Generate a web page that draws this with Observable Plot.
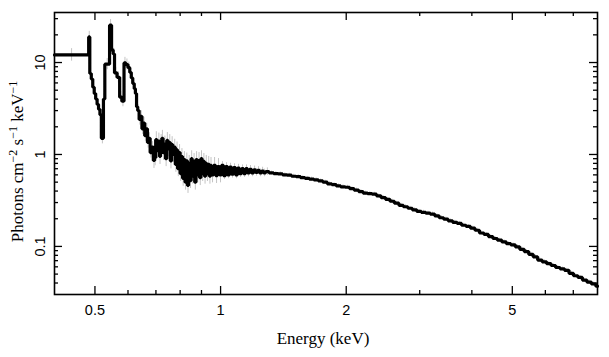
<!DOCTYPE html>
<html>
<head>
<meta charset="utf-8">
<script src="https://cdn.jsdelivr.net/npm/d3@7"></script>
<script src="https://cdn.jsdelivr.net/npm/@observablehq/plot@0.6"></script>
<style>
  html, body { margin: 0; padding: 0; background: #fff; }
</style>
</head>
<body>
<div id="chart"></div>
<script>
// Bin left edges (keV) and flux (photons cm^-2 s^-1 keV^-1)
const binStart = [
  0.400, 0.483, 0.486, 0.490, 0.494, 0.498, 0.502, 0.506, 0.510, 0.514,
  0.518, 0.524, 0.528, 0.542, 0.548, 0.553, 0.557, 0.565, 0.573, 0.580,
  0.587, 0.593, 0.600, 0.606, 0.611, 0.616, 0.621, 0.625, 0.629, 0.633,
  0.638, 0.643, 0.648, 0.653, 0.658, 0.663, 0.668, 0.673, 0.678, 0.684,
  0.690, 0.695, 0.699, 0.704, 0.709, 0.714, 0.718, 0.723, 0.728, 0.733,
  0.738, 0.743, 0.748, 0.753, 0.758, 0.763, 0.768, 0.774, 0.779, 0.784,
  0.789, 0.795, 0.800, 0.805, 0.811, 0.816, 0.822, 0.827, 0.833, 0.838,
  0.844, 0.850, 0.855, 0.861, 0.867, 0.873, 0.879, 0.885, 0.891, 0.897,
  0.903, 0.909, 0.915, 0.921, 0.927, 0.933, 0.940, 0.946,
  0.951, 0.962, 0.973, 0.983, 0.994, 1.005, 1.016, 1.028, 1.039, 1.051,
  1.062, 1.074, 1.086, 1.098, 1.110, 1.123, 1.135, 1.148, 1.160, 1.173,
  1.186, 1.200, 1.213, 1.226, 1.240, 1.254, 1.268, 1.282,
  1.307, 1.340, 1.373, 1.408, 1.443, 1.479, 1.516, 1.554, 1.593, 1.632,
  1.673, 1.715, 1.758, 1.802, 1.847, 1.893, 1.940, 1.989, 2.038, 2.089,
  2.142, 2.195, 2.250, 2.306, 2.364, 2.423, 2.484, 2.546, 2.609, 2.675,
  2.741, 2.810, 2.880, 2.952, 3.026, 3.102, 3.179, 3.259, 3.340, 3.424,
  3.509, 3.597, 3.687, 3.779, 3.874, 3.970, 4.070, 4.171, 4.276, 4.383,
  4.492, 4.605, 4.720, 4.838, 4.959, 5.083, 5.210, 5.340, 5.474, 5.610,
  5.751, 5.894, 6.042, 6.193, 6.348, 6.506, 6.669, 6.836, 7.006, 7.182,
  7.361, 7.545, 7.734, 7.927
];
const binEnd = 8.0;
const flux = [
  12.1, 19.0, 7.6, 6.6, 5.4, 4.6, 4.0, 3.5, 3.1, 2.7,
  1.5, 4.0, 9.6, 25.5, 13.7, 12.4, 7.7, 6.9, 4.2, 3.8,
  9.9, 9.5, 8.8, 7.8, 6.8, 5.9, 5.2, 4.6, 3.3, 3.0,
  2.4, 2.6, 1.9, 2.2, 1.6, 1.9, 1.35, 1.5, 1.05, 1.2,
  0.86, 0.92, 1.45, 1.10, 1.40, 0.95, 1.35, 1.50, 1.05, 1.30,
  0.90, 1.42, 1.15, 1.35, 0.85, 1.28, 1.00, 1.20, 0.78, 1.12,
  0.70, 1.05, 0.62, 0.95, 0.55, 0.88, 0.50, 0.85, 0.46, 0.80,
  0.52, 0.90, 0.58, 0.84, 0.50, 0.88, 0.60, 0.86, 0.56, 0.90,
  0.62, 0.84, 0.58, 0.80, 0.62, 0.78, 0.58, 0.76,
  0.60, 0.76, 0.59, 0.74, 0.60, 0.76, 0.59, 0.74, 0.60, 0.73,
  0.61, 0.72, 0.60, 0.71, 0.62, 0.70, 0.62, 0.70, 0.63, 0.69,
  0.63, 0.68, 0.64, 0.67, 0.63, 0.66, 0.63, 0.65,
  0.63, 0.62, 0.615, 0.60, 0.595, 0.58, 0.575, 0.56, 0.55, 0.54,
  0.53, 0.515, 0.50, 0.48, 0.47, 0.455, 0.445, 0.44, 0.425, 0.41,
  0.395, 0.38, 0.375, 0.37, 0.355, 0.34, 0.325, 0.31, 0.295, 0.28,
  0.27, 0.26, 0.25, 0.24, 0.235, 0.23, 0.225, 0.215, 0.205, 0.198,
  0.19, 0.183, 0.178, 0.17, 0.165, 0.158, 0.15, 0.14, 0.135, 0.128,
  0.122, 0.117, 0.112, 0.107, 0.104, 0.099, 0.093, 0.088, 0.082, 0.077,
  0.071, 0.068, 0.065, 0.062, 0.059, 0.057, 0.055, 0.051, 0.048, 0.046,
  0.043, 0.041, 0.039, 0.037
];
// Relative 1-sigma errors by energy band
const errBandEdges = [0.4, 0.483, 0.69, 1.0, 1.3, 8.0];
const errBandRel   = [0.17, 0.15, 0.22, 0.1, 0.05];

const xMajor = [0.5, 1, 2, 5];
const xMinor = [0.6, 0.7, 0.8, 0.9, 3, 4, 6, 7];
const yMajor = [0.1, 1, 10];
const yMinor = [0.04, 0.05, 0.06, 0.07, 0.08, 0.09, 0.2, 0.3, 0.4, 0.5, 0.6, 0.7, 0.8, 0.9,
                2, 3, 4, 5, 6, 7, 8, 9, 20, 30];
const xLabel = "Energy (keV)";
const yLabelParts = [["Photons cm", false], ["−2", true], [" s", false], ["−1", true], [" keV", false], ["−1", true]];
const yLabel = yLabelParts.map(p => p[0]).join("");

const bins = binStart.map((lo, i) => {
  const hi = i + 1 < binStart.length ? binStart[i + 1] : binEnd;
  const band = errBandEdges.findIndex((e, j) => j < errBandRel.length && lo >= e && lo < errBandEdges[j + 1]);
  const rel = errBandRel[Math.max(0, band)];
  return {lo, hi, f: flux[i], mid: Math.sqrt(lo * hi), eLo: flux[i] / (1 + rel), eHi: flux[i] * (1 + rel)};
});
const steps = bins.map(b => ({x: b.lo, y: b.f})).concat([{x: binEnd, y: flux[flux.length - 1]}]);

const W = 609, H = 357, mL = 54, mR = 12, mT = 12, mB = 63;
const frameH = H - mT - mB, frameW = W - mL - mR;
const majorLen = 8, minorLen = 4;
const sans = "'Liberation Sans', Arial, Helvetica, sans-serif";
const serif = "'Liberation Serif', 'Times New Roman', Times, serif";

const chart = Plot.plot({
  width: W, height: H,
  marginLeft: mL, marginRight: mR, marginTop: mT, marginBottom: mB,
  x: {type: "log", domain: [0.4, 8], axis: null},
  y: {type: "log", domain: [0.03, 35], axis: null},
  style: {background: "#fff"},
  marks: [
    Plot.ruleX(bins, {x: "mid", y1: "eLo", y2: "eHi", stroke: "#c4c4c4", strokeWidth: 1}),
    Plot.line(steps, {x: "x", y: "y", curve: "step-after", stroke: "black", strokeWidth: 3.2, strokeLinejoin: "miter"}),
    Plot.frame({stroke: "black", strokeWidth: 1.6}),
    // inward ticks on all four sides
    Plot.tickX(xMajor, {x: d => d, insetTop: frameH - majorLen, stroke: "black", strokeWidth: 1.3}),
    Plot.tickX(xMajor, {x: d => d, insetBottom: frameH - majorLen, stroke: "black", strokeWidth: 1.3}),
    Plot.tickX(xMinor, {x: d => d, insetTop: frameH - minorLen, stroke: "black", strokeWidth: 1.3}),
    Plot.tickX(xMinor, {x: d => d, insetBottom: frameH - minorLen, stroke: "black", strokeWidth: 1.3}),
    Plot.tickY(yMajor, {y: d => d, insetRight: frameW - majorLen, stroke: "black", strokeWidth: 1.3}),
    Plot.tickY(yMajor, {y: d => d, insetLeft: frameW - majorLen, stroke: "black", strokeWidth: 1.3}),
    Plot.tickY(yMinor, {y: d => d, insetRight: frameW - minorLen, stroke: "black", strokeWidth: 1.3}),
    Plot.tickY(yMinor, {y: d => d, insetLeft: frameW - minorLen, stroke: "black", strokeWidth: 1.3}),
    // tick labels
    Plot.text(xMajor, {x: d => d, frameAnchor: "bottom", dy: 16, text: d => String(d),
      textAnchor: "middle", lineAnchor: "middle", fontSize: 14.5, fontFamily: sans, fill: "black"}),
    Plot.text(yMajor, {y: d => d, frameAnchor: "left", dx: -14, rotate: -90, text: d => String(d),
      textAnchor: "middle", lineAnchor: "middle", fontSize: 14.5, fontFamily: sans, fill: "black"}),
    // axis titles
    Plot.text([xLabel], {frameAnchor: "bottom", dy: 44, dx: -3, text: d => d,
      textAnchor: "middle", lineAnchor: "middle", fontSize: 17, fontFamily: serif, fill: "black"}),
    Plot.text([yLabel], {frameAnchor: "left", dx: -37, dy: 8, rotate: -90, text: d => d,
      textAnchor: "middle", lineAnchor: "middle", fontSize: 17, fontFamily: serif, fill: "black"})
  ]
});

// superscripts in the y-axis title
d3.select(chart).selectAll("text").filter(function () { return this.textContent === yLabel; })
  .each(function () {
    const t = d3.select(this);
    t.text(null);
    let raised = false;
    for (const [s, sup] of yLabelParts) {
      const ts = t.append("tspan").text(s);
      if (sup && !raised) { ts.attr("dy", -6).attr("font-size", 12); raised = true; }
      else if (sup) { ts.attr("font-size", 12); }
      else if (!sup && raised) { ts.attr("dy", 6); raised = false; }
    }
  });

document.getElementById("chart").appendChild(chart);
</script>
</body>
</html>
